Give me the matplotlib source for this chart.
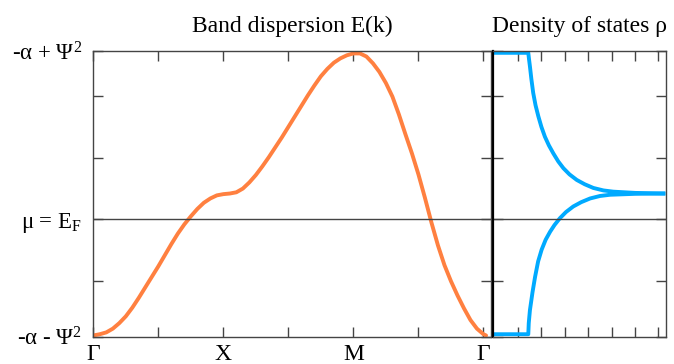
import numpy as np
import matplotlib
matplotlib.use("Agg")
import matplotlib.pyplot as plt

# band along Γ-X-M-Γ (path coordinate, energy; Fermi level at 0)
band_k = [0.00, 0.05, 0.10, 0.15, 0.20, 0.25, 0.30, 0.35, 0.40, 0.45, 0.50, 0.55,
          0.60, 0.65, 0.70, 0.75, 0.80, 0.85, 0.90, 0.95, 1.00, 1.05, 1.10, 1.15,
          1.20, 1.25, 1.30, 1.35, 1.40, 1.45, 1.50, 1.55, 1.60, 1.65, 1.70, 1.75,
          1.80, 1.85, 1.90, 1.95, 2.00, 2.05, 2.10, 2.15, 2.20, 2.25, 2.30, 2.35,
          2.40, 2.45, 2.50, 2.55, 2.60, 2.65, 2.70, 2.75, 2.80, 2.85, 2.90, 2.95,
          3.00, 3.02]
band_e = [-1.88, -1.86, -1.83, -1.77, -1.68, -1.57, -1.43, -1.27, -1.10, -0.93, -0.76, -0.58,
          -0.40, -0.23, -0.08, 0.05, 0.17, 0.27, 0.34, 0.39, 0.41, 0.42, 0.44, 0.50,
          0.60, 0.72, 0.86, 1.01, 1.17, 1.33, 1.50, 1.67, 1.84, 2.01, 2.17, 2.32,
          2.44, 2.54, 2.61, 2.66, 2.69, 2.69, 2.64, 2.53, 2.39, 2.21, 1.99, 1.70,
          1.38, 1.07, 0.73, 0.35, -0.05, -0.42, -0.74, -1.00, -1.23, -1.44, -1.63, -1.77,
          -1.86, -1.88]

# density of states, upper and lower branch (rho, energy)
dos_up_rho = [0.02, 1.44, 1.47, 1.51, 1.57, 1.65, 1.75, 1.87, 2.00, 2.15, 2.32, 2.51,
              2.72, 2.94, 3.20, 3.51, 3.85, 4.22, 4.65, 5.07, 6.00, 7.21]
dos_up_e = [2.70, 2.70, 2.60, 2.48, 2.28, 2.05, 1.85, 1.67, 1.50, 1.34, 1.20, 1.07,
            0.94, 0.83, 0.73, 0.64, 0.57, 0.51, 0.47, 0.45, 0.43, 0.42]
dos_lo_rho = [7.21, 6.00, 4.93, 4.50, 4.08, 3.70, 3.36, 3.05, 2.79, 2.56, 2.37, 2.18,
              2.01, 1.86, 1.73, 1.62, 1.51, 1.46, 1.44, 0.02]
dos_lo_e = [0.42, 0.415, 0.40, 0.38, 0.34, 0.28, 0.21, 0.12, 0.02, -0.09, -0.20, -0.33,
            -0.49, -0.68, -0.93, -1.18, -1.47, -1.68, -1.86, -1.86]

k_ticks = [0, 0.5, 1, 1.5, 2, 2.5, 3]
k_labels = ["Γ", "", "X", "", "M", "", "Γ"]
e_min, e_max = -1.9, 2.73
e_ticks = [e_min, -1, 0, 1, 2, e_max]
e_labels = ["-α - Ψ$^2$", "", "μ = E$_\\mathrm{F}$", "", "", "-α + Ψ$^2$"]

plt.rcParams['font.family'] = ['Liberation Serif', 'DejaVu Serif']
plt.rcParams['mathtext.fontset'] = 'custom'
plt.rcParams['mathtext.rm'] = 'Liberation Serif'
plt.rcParams['mathtext.it'] = 'Liberation Serif:italic'
plt.rcParams['mathtext.bf'] = 'Liberation Serif:bold'

orange = '#ff8040'
blue = '#00aaff'
axis_col = '#444444'

fig = plt.figure(figsize=(6.74, 3.64), dpi=100)
ax1 = fig.add_axes([0.1384, 0.075, 0.5901, 0.785])
ax2 = fig.add_axes([0.7310, 0.075, 0.2571, 0.785])

# band dispersion
ax1.plot(band_k, band_e, color=orange, lw=2.8, solid_capstyle='round')
ax1.axhline(0, color=axis_col, lw=1.0)
ax1.set_xlim(0, 3.058)
ax1.set_ylim(e_min, e_max)
ax1.set_xticks(k_ticks)
ax1.set_xticklabels(k_labels, fontsize=17)
ax1.set_yticks(e_ticks)
ax1.set_yticklabels(e_labels, fontsize=16.5)
ax1.tick_params(direction='in', top=True, right=True, length=7, width=1,
                color=axis_col, pad=8)
ax1.tick_params(axis='x', pad=5)
ax1.set_title("Band dispersion E(k)", fontsize=17, pad=14)

# density of states
ax2.plot(dos_up_rho, dos_up_e, color=blue, lw=2.8)
ax2.plot(dos_lo_rho, dos_lo_e, color=blue, lw=2.8)
ax2.axhline(0, color=axis_col, lw=1.0)
ax2.set_xlim(-0.08, 7.32)
ax2.set_ylim(e_min, e_max)
ax2.set_xticks(range(1, 8))
ax2.set_yticks(e_ticks)
ax2.tick_params(direction='in', top=True, right=True, length=7, width=1,
                color=axis_col, labelleft=False, labelbottom=False)
ax2.set_title("Density of states ρ", fontsize=17, pad=14)

for ax in (ax1, ax2):
    for sp in ax.spines.values():
        sp.set_color(axis_col)
        sp.set_linewidth(1.0)
ax2.spines['left'].set_color('black')
ax2.spines['left'].set_linewidth(1.6)

fig.savefig("out.png", dpi=100)
